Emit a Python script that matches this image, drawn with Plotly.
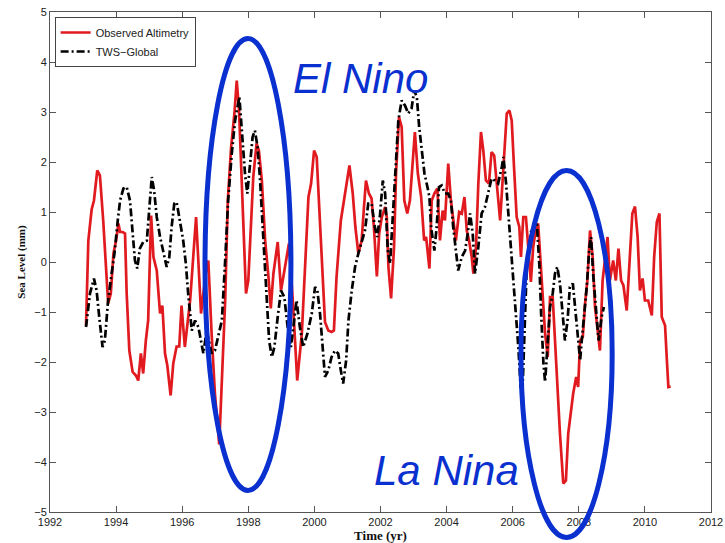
import plotly.graph_objects as go

# ---------------- data ----------------
altimetry_years = [
    1993.09, 1993.16, 1993.26, 1993.33, 1993.43, 1993.51, 1993.61, 1993.69, 1993.76, 1993.84,
    1993.92, 1994.00, 1994.07, 1994.12, 1994.20, 1994.27, 1994.32, 1994.40, 1994.50, 1994.60,
    1994.67, 1994.75, 1994.82, 1994.90, 1994.97, 1995.06, 1995.13, 1995.23, 1995.33, 1995.40,
    1995.48, 1995.55, 1995.65, 1995.73, 1995.83, 1995.91, 1995.98, 1996.08, 1996.24, 1996.42,
    1996.57, 1996.71, 1996.79, 1996.89, 1996.99, 1997.12, 1997.21, 1997.30, 1997.38, 1997.48,
    1997.58, 1997.65, 1997.72, 1997.80, 1997.88, 1997.93, 1998.00, 1998.08, 1998.15, 1998.25,
    1998.32, 1998.41, 1998.51, 1998.61, 1998.68, 1998.76, 1998.89, 1998.99, 1999.09, 1999.23,
    1999.35, 1999.48, 1999.62, 1999.72, 1999.82, 1999.90, 1999.99, 2000.07, 2000.15, 2000.24,
    2000.32, 2000.42, 2000.52, 2000.59, 2000.67, 2000.80, 2000.93, 2001.06, 2001.16, 2001.24,
    2001.33, 2001.43, 2001.50, 2001.56, 2001.65, 2001.73, 2001.80, 2001.89, 2001.96, 2002.04,
    2002.14, 2002.19, 2002.24, 2002.32, 2002.41, 2002.47, 2002.56, 2002.64, 2002.72, 2002.81,
    2002.89, 2002.96, 2003.04, 2003.13, 2003.23, 2003.32, 2003.38, 2003.48, 2003.55, 2003.63,
    2003.72, 2003.80, 2003.88, 2003.95, 2004.05, 2004.13, 2004.20, 2004.28, 2004.38, 2004.46,
    2004.54, 2004.61, 2004.68, 2004.76, 2004.81, 2004.89, 2004.96, 2005.04, 2005.11, 2005.19,
    2005.28, 2005.36, 2005.44, 2005.52, 2005.62, 2005.72, 2005.82, 2005.90, 2005.97, 2006.04,
    2006.12, 2006.20, 2006.25, 2006.32, 2006.40, 2006.47, 2006.55, 2006.62, 2006.71, 2006.77,
    2006.83, 2006.91, 2006.98, 2007.06, 2007.13, 2007.21, 2007.28, 2007.35, 2007.43, 2007.53,
    2007.61, 2007.68, 2007.76, 2007.83, 2007.92, 2007.98, 2008.04, 2008.12, 2008.19, 2008.26,
    2008.34, 2008.42, 2008.49, 2008.57, 2008.64, 2008.72, 2008.82, 2008.87, 2008.94, 2009.04,
    2009.12, 2009.20, 2009.28, 2009.35, 2009.45, 2009.53, 2009.62, 2009.70, 2009.78, 2009.85,
    2009.93, 2010.00, 2010.10, 2010.21, 2010.28, 2010.36, 2010.44, 2010.51, 2010.61, 2010.66,
    2010.71, 2010.78,
]
altimetry_mm = [
    -1.27, 0.43, 1.05, 1.23, 1.83, 1.73, 0.83, 0.03, -0.83, -0.63,
    0.17, 0.43, 0.77, 0.60, 0.60, 0.57, -0.63, -1.77, -2.20, -2.27,
    -2.37, -1.83, -2.23, -1.57, -1.17, 0.93, 0.10, -0.17, -1.03, -0.87,
    -1.83, -2.07, -2.67, -2.03, -1.69, -1.69, -0.87, -1.70, -0.77, 0.90,
    -1.03, -0.23, 0.03, -1.43, -2.63, -3.65, -2.10, -0.77, 1.23, 2.30,
    2.97, 3.63, 3.03, 1.70, 0.30, -0.63, -0.37, 0.70, 1.70, 2.37,
    2.23, 1.63, 0.43, -0.30, -0.93, -0.23, 0.40, -0.57, -0.17, 0.37,
    -0.80, -2.37, -1.43, 0.03, 1.30, 1.57, 2.23, 2.10, 1.03, -0.10,
    -1.20, -1.37, -1.40, -1.37, -0.30, 0.83, 1.43, 1.93, 1.37, 0.70,
    0.17, 0.43, 1.10, 1.63, 1.37, 1.27, 0.70, -0.29, 0.57, 0.90,
    1.10, 0.90, -0.10, -0.73, 0.30, 1.77, 2.90, 2.70, 1.23, 0.97,
    1.23, 1.90, 2.60, 1.77, 1.30, 0.43, 0.50, -0.13, 1.23, 1.37,
    1.47, 0.43, 1.03, 0.83, 1.97, 1.23, 0.90, 0.43, 1.00, 0.97,
    1.30, 0.63, 0.43, 0.10, -0.23, 0.30, 1.57, 2.60, 2.23, 1.63,
    1.57, 2.20, 2.13, 1.50, 0.83, 1.90, 2.97, 3.03, 2.83, 1.90,
    0.90, 0.70, 0.10, 0.90, 0.90, 0.30, -0.40, 0.30, 0.70, 0.77,
    0.10, -0.90, -1.43, -1.90, -0.70, -0.70, -1.57, -2.50, -3.43, -4.43,
    -4.37, -3.43, -3.03, -2.63, -2.30, -2.50, -1.57, -1.50, -0.83, -0.37,
    0.63, 0.10, -0.90, -1.43, -1.77, -0.37, 0.23, 0.50, -0.37, 0.03,
    -0.37, 0.27, -0.37, -0.47, -0.97, -0.10, 0.97, 1.11, 0.50, -0.57,
    -0.33, -0.77, -0.77, -1.07, 0.10, 0.80, 0.97, -1.10, -1.27, -1.90,
    -2.50, -2.49,
]

tws_years = [
    1993.09, 1993.21, 1993.33, 1993.41, 1993.49, 1993.59, 1993.66, 1993.75, 1993.85, 1993.95,
    1994.05, 1994.12, 1994.22, 1994.32, 1994.42, 1994.50, 1994.57, 1994.64, 1994.72, 1994.82,
    1994.93, 1995.00, 1995.08, 1995.15, 1995.23, 1995.33, 1995.43, 1995.53, 1995.61, 1995.68,
    1995.76, 1995.83, 1995.91, 1996.03, 1996.11, 1996.18, 1996.29, 1996.39, 1996.49, 1996.64,
    1996.74, 1996.89, 1996.99, 1997.09, 1997.20, 1997.30, 1997.39, 1997.50, 1997.60, 1997.73,
    1997.82, 1997.90, 1997.97, 1998.05, 1998.13, 1998.20, 1998.28, 1998.35, 1998.45, 1998.56,
    1998.63, 1998.71, 1998.79, 1998.89, 1998.99, 1999.09, 1999.19, 1999.29, 1999.46, 1999.56,
    1999.66, 1999.79, 1999.92, 2000.02, 2000.09, 2000.17, 2000.25, 2000.32, 2000.42, 2000.52,
    2000.62, 2000.72, 2000.80, 2000.87, 2000.96, 2001.03, 2001.13, 2001.23, 2001.33, 2001.43,
    2001.53, 2001.63, 2001.73, 2001.83, 2001.90, 2001.98, 2002.07, 2002.14, 2002.22, 2002.29,
    2002.39, 2002.47, 2002.54, 2002.64, 2002.74, 2002.84, 2002.94, 2003.02, 2003.10, 2003.17,
    2003.25, 2003.33, 2003.42, 2003.48, 2003.53, 2003.63, 2003.70, 2003.77, 2003.85, 2003.95,
    2004.05, 2004.13, 2004.20, 2004.28, 2004.35, 2004.46, 2004.56, 2004.64, 2004.71, 2004.79,
    2004.86, 2004.96, 2005.06, 2005.16, 2005.26, 2005.36, 2005.46, 2005.56, 2005.67, 2005.72,
    2005.80, 2005.87, 2005.94, 2006.02, 2006.10, 2006.17, 2006.24, 2006.30, 2006.43, 2006.55,
    2006.73, 2006.81, 2006.86, 2006.93, 2006.98, 2007.05, 2007.13, 2007.21, 2007.28, 2007.35,
    2007.43, 2007.51, 2007.58, 2007.66, 2007.73, 2007.82, 2007.89, 2007.95, 2008.04, 2008.09,
    2008.16, 2008.24, 2008.32, 2008.37, 2008.44, 2008.52, 2008.60, 2008.69, 2008.76,
]
tws_mm = [
    -1.30, -0.63, -0.33, -0.57, -1.10, -1.70, -1.57, -0.83, -0.30, 0.17,
    0.83, 1.23, 1.47, 1.50, 1.23, 0.57, 0.03, -0.13, 0.27, 0.40,
    0.43, 1.03, 1.70, 1.43, 0.90, 0.50, 0.17, -0.10, 0.10, 0.70,
    1.17, 1.20, 0.90, 0.43, -0.03, -0.63, -1.37, -1.17, -1.30, -1.83,
    -1.37, -1.83, -1.77, -1.50, -1.17, 0.03, 1.23, 2.17, 2.83, 3.30,
    2.37, 1.77, 1.37, 1.90, 2.50, 2.63, 2.30, 1.70, 0.57, -0.77,
    -1.57, -1.90, -1.70, -1.10, -0.57, -0.70, -1.30, -1.70, -0.77, -1.30,
    -1.70, -1.43, -1.03, -0.50, -0.57, -1.03, -1.77, -2.30, -2.17, -1.90,
    -1.77, -1.83, -2.17, -2.43, -1.97, -1.17, -0.57, -0.10, 0.17, 0.43,
    0.63, 1.17, 1.17, 0.70, 0.50, 0.90, 1.63, 1.37, 0.23, -0.03,
    1.03, 2.03, 2.83, 3.23, 3.13, 2.97, 3.07, 3.43, 3.30, 2.70,
    2.17, 1.77, 1.50, 1.30, 0.70, 0.23, 0.70, 1.50, 1.53, 1.37,
    1.37, 1.23, 0.70, 0.17, -0.17, 0.10, 0.23, 0.57, 0.97, 0.57,
    -0.23, 0.30, 0.97, 1.10, 1.37, 1.67, 1.63, 1.57, 1.90, 2.10,
    1.57, 0.97, 0.43, -0.23, -1.03, -1.70, -2.50, -2.50, 0.00, 0.60,
    0.77, -0.10, -1.03, -2.03, -2.40, -1.63, -0.90, -0.63, -0.23, -0.10,
    -0.43, -1.03, -1.57, -1.17, -0.50, -0.43, -0.90, -1.43, -1.97, -1.57,
    -1.10, -0.50, 0.30, 0.50, -0.30, -1.03, -1.57, -1.10, -0.90,
]

x_ticks = [1992, 1994, 1996, 1998, 2000, 2002, 2004, 2006, 2008, 2010, 2012]
y_ticks = [-5, -4, -3, -2, -1, 0, 1, 2, 3, 4, 5]

# ---------------- figure ----------------
X_RANGE = [1992, 2012]
Y_RANGE = [-5, 5]
BLUE = "#0a30d0"

fig = go.Figure()
fig.add_trace(go.Scatter(
    x=altimetry_years, y=altimetry_mm, mode="lines", name="Observed Altimetry",
    line=dict(color="#e01a1f", width=2.7),
))
fig.add_trace(go.Scatter(
    x=tws_years, y=tws_mm, mode="lines", name="TWS\u2212Global",
    line=dict(color="black", width=2.7, dash="8px,3px,2px,3px"),
))


def px(x):
    return (x - X_RANGE[0]) / (X_RANGE[1] - X_RANGE[0])


def py(y):
    return (y - Y_RANGE[0]) / (Y_RANGE[1] - Y_RANGE[0])


# highlight ellipses (in data units, converted to paper so they are not clipped)
el_nino_box = (1996.69, 1999.29, -4.57, 4.47)
la_nina_box = (2006.25, 2009.01, -5.51, 1.83)
for (x0, x1, y0, y1) in (el_nino_box, la_nina_box):
    fig.add_shape(type="circle", xref="paper", yref="paper",
                  x0=px(x0), x1=px(x1), y0=py(y0), y1=py(y1),
                  line=dict(color=BLUE, width=5), layer="above")

fig.add_annotation(x=2001.38, y=3.67, xref="x", yref="y", text="El Nino",
                   showarrow=False, font=dict(family="Liberation Sans", size=42,
                                              color=BLUE, style="italic"))
fig.add_annotation(x=2004.0, y=-4.17, xref="x", yref="y", text="La Nina",
                   showarrow=False, font=dict(family="Liberation Sans", size=42,
                                              color=BLUE, style="italic"))

axis_common = dict(
    showline=True, linecolor="#555", linewidth=1, mirror="ticks",
    ticks="inside", ticklen=6, tickcolor="#555", showgrid=False, zeroline=False,
    automargin=False,
    tickfont=dict(family="Liberation Sans", size=11, color="#222"),
)
fig.update_xaxes(range=X_RANGE, tickvals=x_ticks, ticktext=[str(t) for t in x_ticks],
                 title=dict(text="Time (yr)", standoff=1,
                            font=dict(family="Liberation Serif", size=13,
                                      color="#111", weight="bold")),
                 **axis_common)
fig.update_yaxes(range=Y_RANGE, tickvals=y_ticks,
                 ticktext=[str(t).replace("-", "\u2212") for t in y_ticks],
                 title=dict(text="Sea Level (mm)", standoff=6,
                            font=dict(family="Liberation Serif", size=11,
                                      color="#111", weight="bold")),
                 **axis_common)

fig.update_layout(
    width=725, height=543,
    margin=dict(l=50, r=14, t=12, b=31, autoexpand=False),
    plot_bgcolor="white", paper_bgcolor="white",
    showlegend=True,
    legend=dict(x=0.007, y=0.99, xanchor="left", yanchor="top",
                bgcolor="white", bordercolor="#444", borderwidth=1,
                font=dict(family="Liberation Sans", size=11, color="#222"),
                tracegroupgap=0, itemwidth=30),
)

fig.write_html("out.html")
